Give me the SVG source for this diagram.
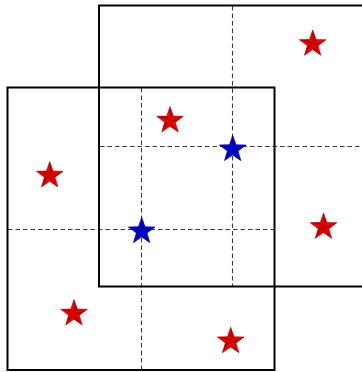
<svg xmlns="http://www.w3.org/2000/svg" width="362" height="372" viewBox="0 0 362 372">
<style>
.sq{fill:none;stroke:#000;stroke-width:2}
.dash{fill:none;stroke:#3a3a3a;stroke-width:1.1;stroke-dasharray:4.5 3}
</style>
<defs>
<g id="starR">
<path d="M0,-14 L3.292,-4.531 L13.315,-4.326 L5.326,1.731 L8.229,11.326 L0,5.6 L-8.229,11.326 L-5.326,1.731 L-13.315,-4.326 L-3.292,-4.531 Z" fill="#ee0000" stroke="#b00000" stroke-width="0.6"/>
<path d="M0,0 L0,-14 L3.292,-4.531 Z M0,0 L13.315,-4.326 L5.326,1.731 Z M0,0 L8.229,11.326 L0,5.6 Z M0,0 L-8.229,11.326 L-5.326,1.731 Z M0,0 L-13.315,-4.326 L-3.292,-4.531 Z" fill="#800000" opacity="0.5"/>
</g>
<g id="starB">
<path d="M0,-14 L3.292,-4.531 L13.315,-4.326 L5.326,1.731 L8.229,11.326 L0,5.6 L-8.229,11.326 L-5.326,1.731 L-13.315,-4.326 L-3.292,-4.531 Z" fill="#0000dd" stroke="#000099" stroke-width="0.6"/>
<path d="M0,0 L0,-14 L3.292,-4.531 Z M0,0 L13.315,-4.326 L5.326,1.731 Z M0,0 L8.229,11.326 L0,5.6 Z M0,0 L-8.229,11.326 L-5.326,1.731 Z M0,0 L-13.315,-4.326 L-3.292,-4.531 Z" fill="#000060" opacity="0.45"/>
</g>
</defs>
<g id="connectors">
<line class="dash" x1="141.5" y1="88" x2="141.5" y2="369"/>
<line class="dash" x1="8" y1="229.5" x2="274" y2="229.5"/>
<line class="dash" x1="232.5" y1="6" x2="232.5" y2="286"/>
<line class="dash" x1="100" y1="146.5" x2="362" y2="146.5"/>
</g>
<g id="squareA"><rect class="sq" x="7.5" y="87.5" width="267" height="282.5"/></g>
<g id="squareB"><rect class="sq" x="99" y="5.5" width="280" height="281"/></g>
<g id="star1"><use href="#starR" x="312.7" y="44"/></g>
<g id="star2"><use href="#starR" x="170" y="120.6"/></g>
<g id="star3"><use href="#starR" x="49.7" y="175.6"/></g>
<g id="star4"><use href="#starR" x="323.5" y="227"/></g>
<g id="star5"><use href="#starR" x="74" y="313.6"/></g>
<g id="star6"><use href="#starR" x="230.7" y="341.3"/></g>
<g id="star7"><use href="#starB" x="232.7" y="149.3"/></g>
<g id="star8"><use href="#starB" x="141.7" y="231.3"/></g>
</svg>
